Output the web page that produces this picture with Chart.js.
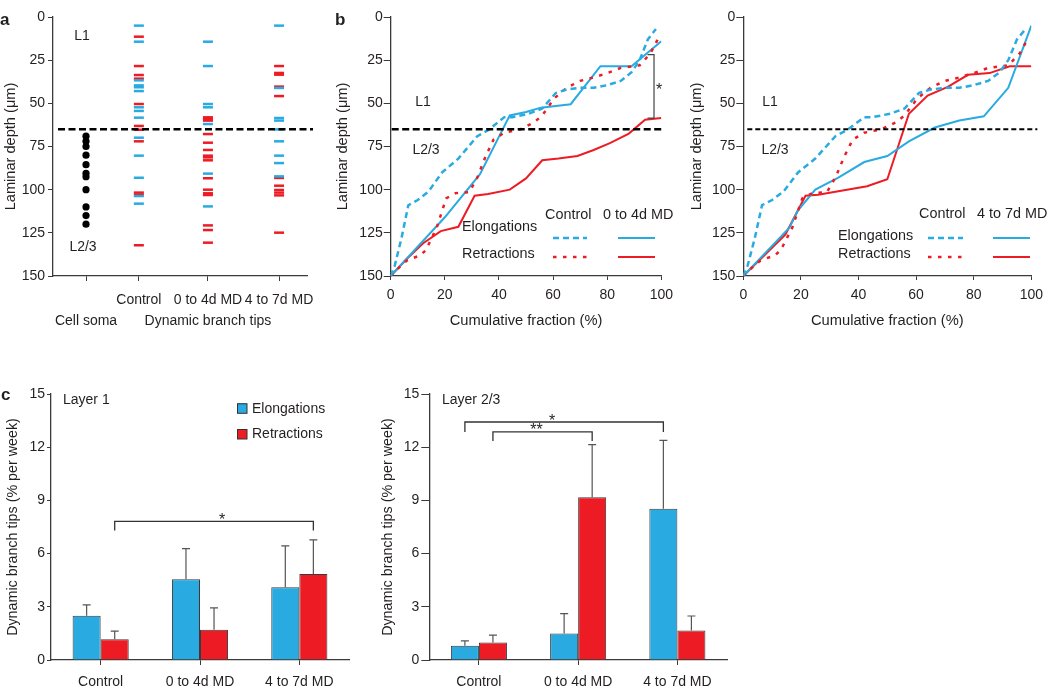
<!DOCTYPE html>
<html><head><meta charset="utf-8">
<script src="https://cdn.jsdelivr.net/npm/chart.js"></script>
<style>
html,body{margin:0;padding:0;background:#fff}
body{width:1050px;height:695px;position:relative;overflow:hidden}
.box{position:absolute}
.box canvas{display:block}
</style></head>
<body>
<div class="box" style="left:0;top:0;width:330px;height:340px"><canvas id="chA"></canvas></div>
<div class="box" style="left:330px;top:0;width:350px;height:340px"><canvas id="chBL"></canvas></div>
<div class="box" style="left:680px;top:0;width:370px;height:340px"><canvas id="chBR"></canvas></div>
<div class="box" style="left:0;top:380px;width:360px;height:315px"><canvas id="chCL"></canvas></div>
<div class="box" style="left:365px;top:380px;width:375px;height:315px"><canvas id="chCR"></canvas></div>
<script>
// ---------------- DATA ----------------
// Panel a: laminar depth (µm) of cell somata and dynamic branch tips
const somaDepth      = [69, 72, 75, 80, 85.5, 90.5, 92.5, 100, 110, 115, 120];
const ctrlElongTips  = [5, 14.3, 36.7, 39.6, 40.7, 42.9, 52.3, 54.4, 58.3, 69.9, 80.3, 93.1, 103.7, 108.1];
const ctrlRetrTips   = [11.4, 28.4, 33.6, 35.7, 50.4, 63.1, 65.3, 72, 101.7, 102.9, 132.2];
const md04ElongTips  = [14.3, 28.4, 50.4, 52.3, 62, 90.7, 109.7];
const md04RetrTips   = [58.1, 59.1, 60, 67.8, 72.8, 77, 80.3, 81.3, 83, 93.4, 100, 102.1, 103.1, 120.7, 123.4, 130.7];
const md47ElongTips  = [5, 41.1, 58.5, 60, 65.1, 72, 80.3, 84.6, 92.3];
const md47RetrTips   = [28.4, 32.4, 33.4, 40.3, 45.8, 93.2, 97.7, 100.2, 101.7, 103.3, 124.9];
const groupsA        = ['Cell soma', 'Control', '0 to 4d MD', '4 to 7d MD'];
const depthTicks     = [0, 25, 50, 75, 100, 125, 150];
const layerBoundary  = 65;

// Panel b: cumulative fraction (%) vs laminar depth (µm)
const cumCtrlElongX = [0, 1.5, 4, 6.5, 10, 14, 19, 25, 32, 36, 42, 45, 51, 56, 61, 65, 70, 75, 80, 85, 89, 92, 95, 98];
const cumCtrlElongY = [150, 144, 128, 109, 106, 101, 90, 82, 69, 65.5, 58, 58, 56, 53, 44, 42, 41, 41, 39.5, 37, 32, 25, 13, 7];
const cumCtrlRetrX  = [0, 1, 6, 11, 13, 17, 20.5, 24, 29, 32, 35, 38, 42, 48, 53, 56, 60.5, 65, 70, 75, 80, 85, 92, 96, 99];
const cumCtrlRetrY  = [150, 148, 141, 138, 135, 122, 105, 102, 101.5, 93, 81, 71, 67, 65, 61, 57, 47, 41, 37, 35, 32.5, 29.5, 28, 21, 12];
const cum04ElongX   = [0, 20, 33, 44, 50, 55.5, 66.5, 77.5, 89, 100];
const cum04ElongY   = [150, 116, 91, 57, 55, 52.5, 50.5, 28.5, 28.5, 14];
const cum04RetrX    = [0, 6, 12, 18.5, 25, 31, 36, 44, 50, 56, 62, 69, 75, 81, 88, 94, 100];
const cum04RetrY    = [150, 140, 131, 124, 121.5, 103.5, 102.5, 100, 93.5, 83, 82, 80.5, 77, 73, 67.5, 59.5, 58.5];
const cum47ElongX   = [0, 8, 16, 19, 25, 33, 42, 50, 57.5, 66.5, 75, 83.5, 92, 100];
const cum47ElongY   = [150, 136, 122, 112, 100, 93, 84, 80.5, 72, 64, 60, 57.5, 41, 5];
const cum47RetrX    = [0, 14.6, 21.6, 26, 43, 50, 57.5, 64, 71, 78, 85.5, 92.5, 100];
const cum47RetrY    = [150, 126, 103.5, 103, 98, 94, 56, 45.5, 40.5, 33.5, 32.5, 28.5, 28.5];
const fractionTicks = [0, 20, 40, 60, 80, 100];

// Panel c: dynamic branch tips (% per week), mean and s.e.m.
const groupsC     = ['Control', '0 to 4d MD', '4 to 7d MD'];
const l1ElongMean = [2.5, 4.55, 4.1];
const l1ElongSem  = [0.61, 1.73, 2.33];
const l1RetrMean  = [1.17, 1.7, 4.85];
const l1RetrSem   = [0.46, 1.24, 1.92];
const l23ElongMean = [0.8, 1.5, 8.53];
const l23ElongSem  = [0.28, 1.11, 3.86];
const l23RetrMean  = [0.99, 9.18, 1.66];
const l23RetrSem   = [0.41, 2.96, 0.82];
const rateTicks    = [0, 3, 6, 9, 12, 15];

// ---------------- STYLE ----------------
const FONT = "'Liberation Sans', Arial, Helvetica, sans-serif";
const TXT = '#231f20', AX = '#3a3a3a', BLUE = '#29abe2', RED = '#ed1c24';
Chart.defaults.font.family = FONT;
Chart.defaults.font.size = 14;
Chart.defaults.color = TXT;
const colPosA = [0.65, 1.69, 3.05, 4.45];   // x-scale positions of the panel-a columns

function txt(ctx, s, x, y, o = {}) {
  ctx.save();
  ctx.font = (o.weight || 'normal') + ' ' + (o.size || 14) + 'px ' + FONT;
  ctx.fillStyle = o.color || TXT;
  ctx.textAlign = o.align || 'left';
  ctx.textBaseline = o.baseline || 'middle';
  ctx.fillText(s, x, y);
  ctx.restore();
}
function boundary(chart, dash, width, exL, exR) {
  const {ctx, chartArea: ca, scales: {y}} = chart;
  const py = y.getPixelForValue(layerBoundary);
  ctx.save(); ctx.strokeStyle = '#000'; ctx.lineWidth = width; ctx.setLineDash(dash);
  ctx.beginPath(); ctx.moveTo(ca.left + exL, py); ctx.lineTo(ca.right + exR, py); ctx.stroke(); ctx.restore();
}
const axisGrid = (len) => ({drawOnChartArea: false, tickLength: len, color: AX, lineWidth: 1});
const axisBorder = {display: true, color: AX, width: 1.3};

// ---------------- PANEL a ----------------
const xLabelsA = [['', groupsA[0]], [groupsA[1], ''], [groupsA[2], 'Dynamic branch tips'], [groupsA[3], '']];
function tipSet(arr, col, color) {
  return {data: arr.map(d => ({x: colPosA[col], y: d})), pointStyle: 'line', pointRadius: 5,
          borderColor: color, backgroundColor: color, borderWidth: 2.5};
}
const panelAPlugin = {
  id: 'panelA',
  afterDatasetsDraw(chart) {
    boundary(chart, [7, 3.5], 2.5, 5, 6);
    txt(chart.ctx, 'L1', 82, 36, {align: 'center'});
    txt(chart.ctx, 'L2/3', 83, 247, {align: 'center'});
    txt(chart.ctx, 'a', 0, 20, {weight: 'bold', size: 17});
  }
};
new Chart(document.getElementById('chA'), {
  type: 'scatter',
  data: {datasets: [
    {data: somaDepth.map(d => ({x: colPosA[0], y: d})), pointStyle: 'circle', pointRadius: 3.6,
     backgroundColor: '#000', borderColor: '#000', borderWidth: 0},
    tipSet(ctrlElongTips, 1, BLUE), tipSet(ctrlRetrTips, 1, RED),
    tipSet(md04ElongTips, 2, BLUE), tipSet(md04RetrTips, 2, RED),
    tipSet(md47ElongTips, 3, BLUE), tipSet(md47RetrTips, 3, RED)
  ]},
  options: {
    responsive: true, maintainAspectRatio: false, animation: false, events: [],
    layout: {padding: {top: 17, right: 23, left: 0, bottom: 0}},
    plugins: {legend: {display: false}, tooltip: {enabled: false}},
    scales: {
      x: {type: 'linear', min: 0, max: 5,
          afterBuildTicks: s => { s.ticks = colPosA.map(v => ({value: v})); },
          afterFit: s => { s.height = 64; },
          ticks: {autoSkip: false, maxRotation: 0, padding: 9, font: {size: 14, lineHeight: 1.5},
                  callback: (v, i) => xLabelsA[i]},
          grid: axisGrid(5), border: axisBorder},
      y: {reverse: true, min: 0, max: 150,
          afterBuildTicks: s => { s.ticks = depthTicks.map(v => ({value: v})); },
          afterFit: s => { s.width = 53; },
          ticks: {padding: 3}, grid: axisGrid(5), border: axisBorder,
          title: {display: true, text: 'Laminar depth (μm)', padding: {top: 2, bottom: 0}, font: {size: 14.6}}}
    }
  },
  plugins: [panelAPlugin]
});

// ---------------- PANEL b ----------------
const pts = (xs, ys) => xs.map((x, i) => ({x: x, y: ys[i]}));
function cumSet(xs, ys, color, dash) {
  return {data: pts(xs, ys), showLine: true, pointRadius: 0, borderColor: color, backgroundColor: color,
          borderWidth: dash ? 2.5 : 2, borderDash: dash || [], tension: 0};
}
function bScales(yWidth, titlePad) {
  return {
    x: {type: 'linear', min: 0, max: 100,
        afterBuildTicks: s => { s.ticks = fractionTicks.map(v => ({value: v})); },
        afterFit: s => { s.height = 64; },
        ticks: {padding: 7, maxRotation: 0}, grid: axisGrid(4), border: axisBorder,
        title: {display: true, text: 'Cumulative fraction (%)', padding: {top: 0, bottom: 10.5}, font: {size: 14.7}}},
    y: {reverse: true, min: 0, max: 150,
        afterBuildTicks: s => { s.ticks = depthTicks.map(v => ({value: v})); },
        afterFit: s => { s.width = yWidth; },
        ticks: {padding: 1}, grid: axisGrid(7), border: axisBorder,
        title: {display: true, text: 'Laminar depth (μm)', padding: {top: titlePad, bottom: 0}, font: {size: 14.6}}}
  };
}
const panelBPlugin = {
  id: 'panelB',
  afterDatasetsDraw(chart, args, o) {
    const ctx = chart.ctx;
    boundary(chart, o.dash, o.lw, o.exL, o.exR);
    txt(ctx, 'L1', o.l1[0], o.l1[1], {align: 'center'});
    txt(ctx, 'L2/3', o.l23[0], o.l23[1], {align: 'center'});
    // legend table
    o.hdr.forEach(h => txt(ctx, h[0], h[1], o.hdrY, {size: 14.4}));
    o.rows.forEach((r, i) => {
      txt(ctx, r[0], o.tx, r[1], {size: 14.4});
      [[chart.data.datasets[i], o.s1], [chart.data.datasets[i + 2], o.s2]].forEach(([ds, seg]) => {
        ctx.save(); ctx.strokeStyle = ds.borderColor; ctx.lineWidth = ds.borderWidth;
        ctx.setLineDash(ds.borderDash || []);
        ctx.beginPath(); ctx.moveTo(seg[0], r[2]); ctx.lineTo(seg[1], r[2]); ctx.stroke(); ctx.restore();
      });
    });
    if (o.letter) txt(ctx, o.letter, 5, 20, {weight: 'bold', size: 17});
    if (o.bracket) {
      const {x, y} = chart.scales;
      const bx = x.getPixelForValue(o.bracket.x);
      const y1 = y.getPixelForValue(o.bracket.y1), y2 = y.getPixelForValue(o.bracket.y2);
      ctx.save(); ctx.strokeStyle = '#444'; ctx.lineWidth = 1.2;
      ctx.beginPath(); ctx.moveTo(bx - 6.5, y1); ctx.lineTo(bx, y1); ctx.lineTo(bx, y2); ctx.lineTo(bx - 6.5, y2); ctx.stroke();
      ctx.restore();
      txt(ctx, '*', bx + 5, (y1 + y2) / 2 + 9, {align: 'center', size: 16, baseline: 'alphabetic'});
    }
  }
};
new Chart(document.getElementById('chBL'), {
  type: 'scatter',
  data: {datasets: [
    cumSet(cumCtrlElongX, cumCtrlElongY, BLUE, [6, 4]),
    cumSet(cumCtrlRetrX, cumCtrlRetrY, RED, [3.5, 6.5]),
    cumSet(cum04ElongX, cum04ElongY, BLUE),
    cumSet(cum04RetrX, cum04RetrY, RED)
  ]},
  options: {
    responsive: true, maintainAspectRatio: false, animation: false, events: [],
    layout: {padding: {top: 17, right: 15, left: 0, bottom: 0}},
    plugins: {legend: {display: false}, tooltip: {enabled: false},
      panelB: {dash: [7, 3.5], lw: 2.5, exL: 1, exR: 2, l1: [93, 102], l23: [96, 150],
               hdr: [['Control', 215], ['0 to 4d MD', 273]], hdrY: 215, tx: 132,
               rows: [['Elongations', 227, 238], ['Retractions', 254, 257]],
               s1: [223, 257], s2: [288, 325], letter: 'b',
               bracket: {x: 97.3, y1: 21.8, y2: 58.6}}},
    scales: bScales(60.7, 4.6)
  },
  plugins: [panelBPlugin]
});
new Chart(document.getElementById('chBR'), {
  type: 'scatter',
  data: {datasets: [
    cumSet(cumCtrlElongX, cumCtrlElongY, BLUE, [6, 4]),
    cumSet(cumCtrlRetrX, cumCtrlRetrY, RED, [3.5, 6.5]),
    cumSet(cum47ElongX, cum47ElongY, BLUE),
    cumSet(cum47RetrX, cum47RetrY, RED)
  ]},
  options: {
    responsive: true, maintainAspectRatio: false, animation: false, events: [],
    layout: {padding: {top: 17, right: 11, left: 0, bottom: 0}},
    plugins: {legend: {display: false}, tooltip: {enabled: false},
      panelB: {dash: [5, 3], lw: 1.8, exL: 4, exR: 6, l1: [90, 102], l23: [95, 150],
               hdr: [['Control', 239], ['4 to 7d MD', 297]], hdrY: 214, tx: 158,
               rows: [['Elongations', 236, 238], ['Retractions', 254, 257]],
               s1: [248, 283], s2: [313, 350]}},
    scales: bScales(63.3, 8.6)
  },
  plugins: [panelBPlugin]
});

// ---------------- PANEL c ----------------
const panelCPlugin = {
  id: 'panelC',
  afterDatasetsDraw(chart, args, o) {
    const {ctx, scales: {y}} = chart;
    // error bars
    chart.data.datasets.forEach((ds, di) => {
      chart.getDatasetMeta(di).data.forEach((bar, i) => {
        const top = y.getPixelForValue(ds.data[i] + ds.err[i]);
        ctx.save(); ctx.strokeStyle = '#555'; ctx.lineWidth = 1.2;
        ctx.beginPath(); ctx.moveTo(bar.x, bar.y); ctx.lineTo(bar.x, top);
        ctx.moveTo(bar.x - 4, top); ctx.lineTo(bar.x + 4, top); ctx.stroke(); ctx.restore();
      });
    });
    // significance brackets
    (o.sig || []).forEach(s => {
      const xa = chart.getDatasetMeta(s.a[0]).data[s.a[1]].x;
      const xb = chart.getDatasetMeta(s.b[0]).data[s.b[1]].x;
      const yt = y.getPixelForValue(s.top), yl = y.getPixelForValue(s.leg);
      ctx.save(); ctx.strokeStyle = '#333'; ctx.lineWidth = 1.3;
      ctx.beginPath(); ctx.moveTo(xa, yl); ctx.lineTo(xa, yt); ctx.lineTo(xb, yt); ctx.lineTo(xb, yl); ctx.stroke();
      ctx.restore();
      txt(ctx, s.label, (xa + xb) / 2 + s.dx, yt + 3.5, {align: 'center', size: 16, baseline: 'alphabetic'});
    });
    txt(ctx, o.title, o.titleX, 20);
    if (o.letter) txt(ctx, o.letter, 1, 15, {weight: 'bold', size: 17});
    if (o.legend) {
      chart.data.datasets.forEach((ds, i) => {
        const yy = 23.3 + i * 25.7;
        ctx.save(); ctx.fillStyle = ds.backgroundColor; ctx.strokeStyle = '#333'; ctx.lineWidth = 1;
        ctx.fillRect(237, yy, 10, 10); ctx.strokeRect(237.5, yy + 0.5, 9.5, 9.5); ctx.restore();
        txt(ctx, ds.label, 252, yy + 5.5);
      });
    }
  }
};
function cScales(yWidth, tickLen, titlePad) {
  return {
    x: {grid: Object.assign(axisGrid(5), {offset: false}), border: axisBorder,
        ticks: {padding: 9, maxRotation: 0, autoSkip: false}, afterFit: s => { s.height = 35; }},
    y: {min: 0, max: 15,
        afterBuildTicks: s => { s.ticks = rateTicks.map(v => ({value: v})); },
        afterFit: s => { s.width = yWidth; },
        ticks: {padding: 2}, grid: axisGrid(tickLen), border: axisBorder,
        title: {display: true, text: 'Dynamic branch tips (% per week)', padding: {top: titlePad, bottom: 0}, font: {size: 14.3}}}
  };
}
function barSet(label, mean, sem, color) {
  return {label: label, data: mean, err: sem, backgroundColor: color, borderColor: '#3a3a3a', borderWidth: 1,
          categoryPercentage: 0.565, barPercentage: 1};
}
new Chart(document.getElementById('chCL'), {
  type: 'bar',
  data: {labels: groupsC, datasets: [
    barSet('Elongations', l1ElongMean, l1ElongSem, BLUE),
    barSet('Retractions', l1RetrMean, l1RetrSem, RED)]},
  options: {
    responsive: true, maintainAspectRatio: false, animation: false, events: [],
    layout: {padding: {top: 14, right: 11, left: 0, bottom: 0}},
    plugins: {legend: {display: false}, tooltip: {enabled: false},
      panelC: {title: 'Layer 1', titleX: 63, letter: 'c', legend: true,
               sig: [{a: [1, 0], b: [1, 2], top: 7.82, leg: 7.3, label: '*', dx: 8}]}},
    scales: cScales(51, 4, 4)
  },
  plugins: [panelCPlugin]
});
new Chart(document.getElementById('chCR'), {
  type: 'bar',
  data: {labels: groupsC, datasets: [
    barSet('Elongations', l23ElongMean, l23ElongSem, BLUE),
    barSet('Retractions', l23RetrMean, l23RetrSem, RED)]},
  options: {
    responsive: true, maintainAspectRatio: false, animation: false, events: [],
    layout: {padding: {top: 14, right: 13, left: 0, bottom: 0}},
    plugins: {legend: {display: false}, tooltip: {enabled: false},
      panelC: {title: 'Layer 2/3', titleX: 77, legend: false,
               sig: [{a: [0, 0], b: [0, 2], top: 13.42, leg: 12.86, label: '*', dx: -12},
                     {a: [1, 0], b: [1, 1], top: 12.86, leg: 12.35, label: '**', dx: -6}]}},
    scales: cScales(64.3, 8, 14)
  },
  plugins: [panelCPlugin]
});
</script>
</body></html>
